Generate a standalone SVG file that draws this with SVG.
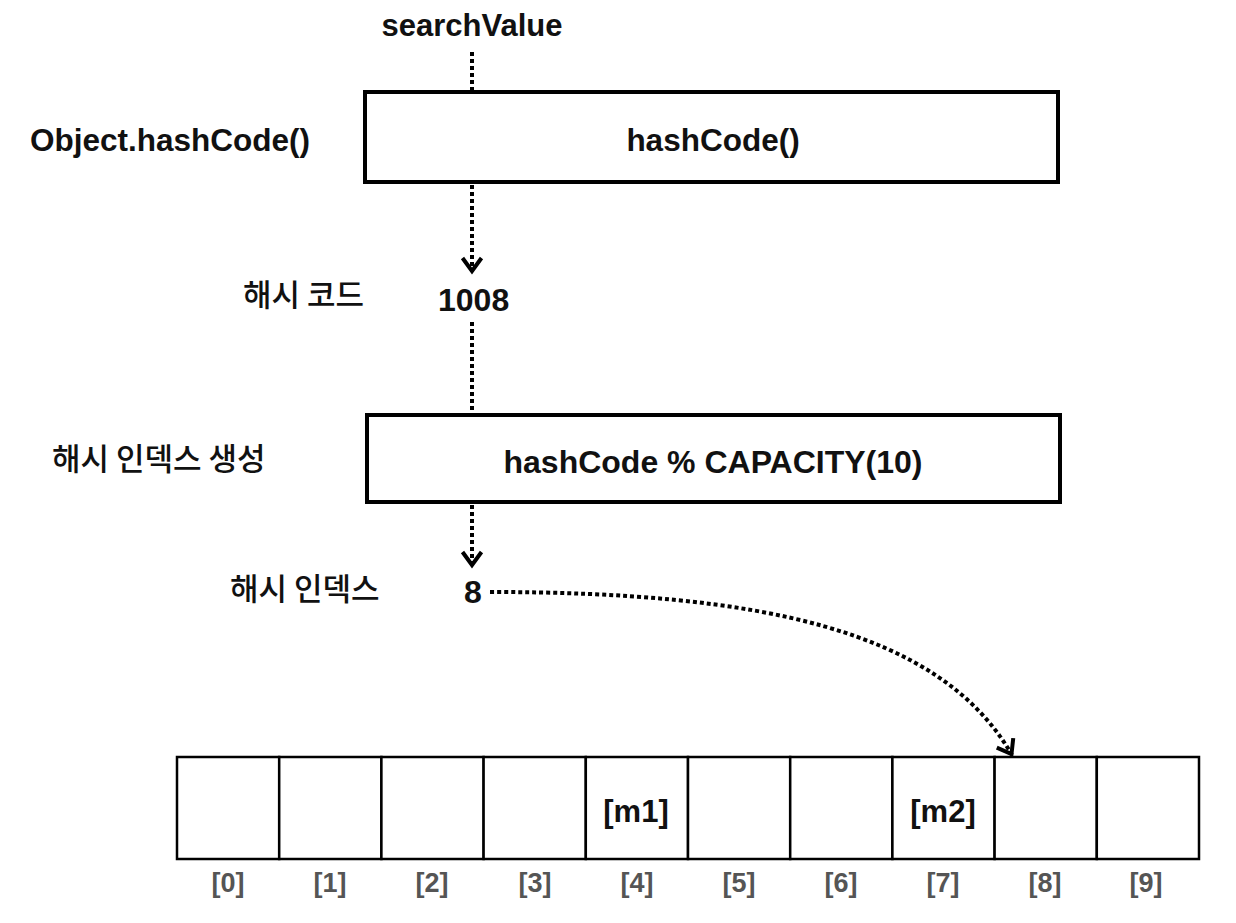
<svg xmlns="http://www.w3.org/2000/svg" width="1236" height="923" viewBox="0 0 1236 923">
<style>
.t{font-family:"Liberation Sans","Noto Sans CJK KR",Arial,sans-serif;font-weight:bold;fill:#111;}
.k{font-family:"Noto Sans CJK KR","Liberation Sans",sans-serif;font-weight:500;fill:#111;font-size:31px;}
.idx{font-family:"Liberation Sans",Arial,sans-serif;font-weight:bold;fill:#555;font-size:27px;text-anchor:middle;}
.box{fill:#fff;stroke:#000;stroke-width:4;}
.cell{fill:#fff;stroke:#000;stroke-width:2.5;}
.dot{fill:none;stroke:#000;stroke-width:4;stroke-dasharray:4 3;}
</style>
<defs>
<marker id="arr" viewBox="0 0 24 24" refX="18" refY="12" markerWidth="24" markerHeight="24" markerUnits="userSpaceOnUse" orient="auto">
<polyline points="4,2.5 17,12 4,21.5" fill="none" stroke="#000" stroke-width="4"/>
</marker>
</defs>
<rect width="1236" height="923" fill="#fff"/>

<g id="connectors">
<line class="dot" x1="472" y1="52" x2="472" y2="90"/>
<line class="dot" x1="472" y1="185" x2="472" y2="272" marker-end="url(#arr)"/>
<line class="dot" x1="472" y1="322" x2="472" y2="413"/>
<line class="dot" x1="472" y1="505" x2="472" y2="566" marker-end="url(#arr)"/>
<path class="dot" d="M490,592 C760,592 940,630 1012,755" stroke-width="3.5" marker-end="url(#arr)"/>
</g>

<g id="searchValue"><text class="t" x="472" y="36" font-size="31" text-anchor="middle">searchValue</text></g>

<g id="hashCodeBox">
<rect class="box" x="365" y="92" width="693" height="90"/>
<text class="t" x="713" y="151" font-size="31.5" text-anchor="middle">hashCode()</text>
</g>
<g id="objectHashLabel"><text class="t" x="30" y="151" font-size="31.5">Object.hashCode()</text></g>

<g id="hashCodeValue">
<text class="k" x="243" y="306">해시 코드</text>
<text class="t" x="438" y="311" font-size="32">1008</text>
</g>

<g id="indexBox">
<rect class="box" x="367" y="415" width="693" height="87"/>
<text class="t" x="713" y="473" font-size="32" text-anchor="middle">hashCode % CAPACITY(10)</text>
</g>
<g id="indexLabel"><text class="k" x="52" y="470">해시 인덱스 생성</text></g>

<g id="hashIndex">
<text class="k" x="230" y="600">해시 인덱스</text>
<text class="t" x="464" y="603" font-size="32">8</text>
</g>

<g id="array">
<rect class="cell" x="177" y="757" width="102.2" height="102"/>
<rect class="cell" x="279.2" y="757" width="102.2" height="102"/>
<rect class="cell" x="381.4" y="757" width="102.2" height="102"/>
<rect class="cell" x="483.6" y="757" width="102.2" height="102"/>
<rect class="cell" x="585.8" y="757" width="102.2" height="102"/>
<rect class="cell" x="688" y="757" width="102.2" height="102"/>
<rect class="cell" x="790.2" y="757" width="102.2" height="102"/>
<rect class="cell" x="892.4" y="757" width="102.2" height="102"/>
<rect class="cell" x="994.6" y="757" width="102.2" height="102"/>
<rect class="cell" x="1096.8" y="757" width="102.2" height="102"/>
<text class="t" x="636" y="822" font-size="31" text-anchor="middle">[m1]</text>
<text class="t" x="943" y="822" font-size="31" text-anchor="middle">[m2]</text>
<text class="idx" x="228" y="892">[0]</text>
<text class="idx" x="330" y="892">[1]</text>
<text class="idx" x="432" y="892">[2]</text>
<text class="idx" x="535" y="892">[3]</text>
<text class="idx" x="637" y="892">[4]</text>
<text class="idx" x="739" y="892">[5]</text>
<text class="idx" x="841" y="892">[6]</text>
<text class="idx" x="943" y="892">[7]</text>
<text class="idx" x="1045" y="892">[8]</text>
<text class="idx" x="1146" y="892">[9]</text>
</g>
</svg>
